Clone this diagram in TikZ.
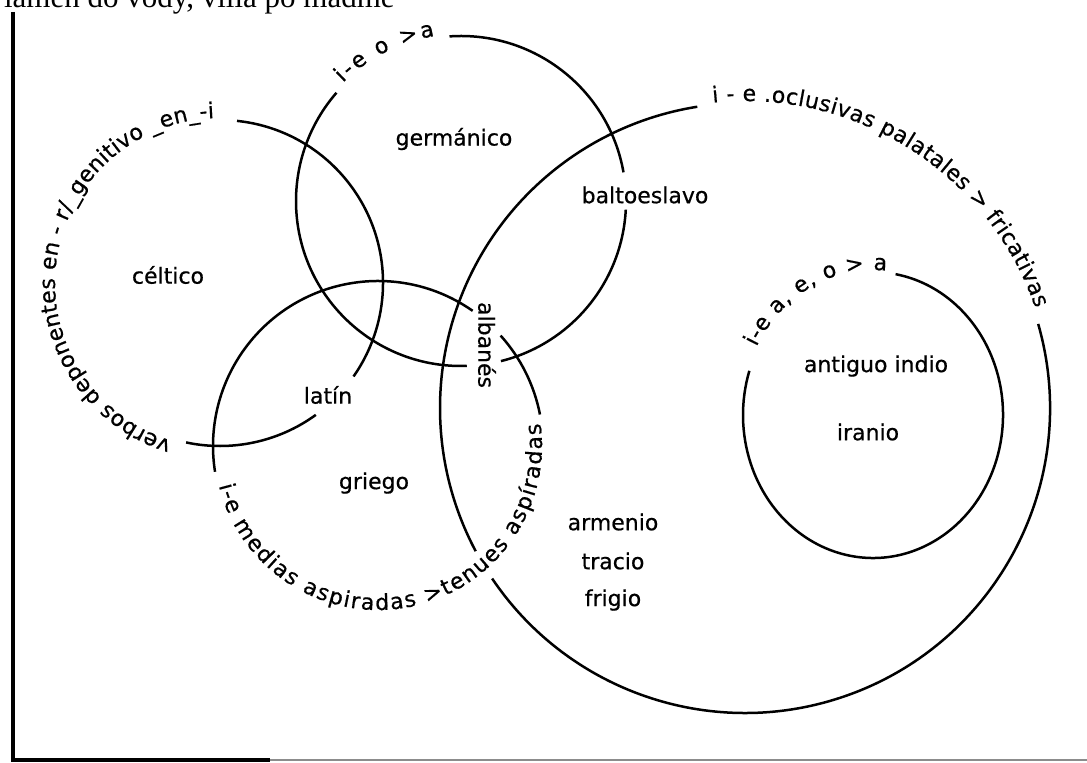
\documentclass[tikz,border=0pt]{standalone}
\usepackage{fontspec}
\setmainfont{DejaVu Sans}[FakeBold=0.6]
\newfontfamily\scanserif{Liberation Serif}
\usetikzlibrary{decorations.text}

\newcommand\curvefont{\fontsize{11}{13}\selectfont}

\tikzset{
	ring/.style={line width=1.25pt},
	lang/.style={inner sep=1pt, font=\curvefont},
	rimtext/.style={decorate, decoration={text along path, text={|\curvefont|#1}, text align=fit to path}}
}

\begin{document}
\begin{tikzpicture}[x=0.5pt, y=0.5pt]
	\useasboundingbox (0,0) rectangle (1087,762);

	% centres of the rings
	\coordinate (ca) at (220,479);
	\coordinate (cb) at (461,561);
	\coordinate (cc) at (745,354);
	\coordinate (cd) at (378,316);
	\coordinate (ce) at (873,347);

	% cut-off line of the page above and the frame
	\node[anchor=base east, inner sep=0pt, font=\scanserif\fontsize{15.5}{18}\selectfont] (pageline) at (395,754) {lamen do vody, vlila po mádmě};
	\draw[line width=2pt] (13,750) -- (13,2) -- (270,2);
	\draw[line width=1pt, black!45] (270,2) -- (1087,2);

	% celtic ring
	\draw[ring] (ca) ++(84:163) arc[start angle=84, end angle=-35, radius=163];
	\draw[ring] (ca) ++(-54:163) arc[start angle=-54, end angle=-102, radius=163];
	\path[rimtext={verbos deponentes en - r/{\_}genitivo {\_}en{\_}-i}] (ca) ++(253:165) arc[start angle=253, end angle=92, radius=165];

	% germanic ring
	\draw[ring] (cb) ++(94:165) arc[start angle=94, end angle=10, radius=165];
	\draw[ring] (cb) ++(-3:165) arc[start angle=-3, end angle=-76, radius=165];
	\draw[ring] (cb) ++(-88:165) arc[start angle=-88, end angle=-221, radius=165];
	\path[rimtext={i-e o >a}] (cb) ++(135:167) arc[start angle=135, end angle=99, radius=167];

	% satem ring
	\draw[ring] (cc) ++(16:305) arc[start angle=16, end angle=-146, radius=305];
	\draw[ring] (cc) ++(-152:305) arc[start angle=-152, end angle=-261, radius=305];
	\path[rimtext={i - e .oclusivas palatales > fricativas}] (cc) ++(96:307) arc[start angle=96, end angle=19, radius=307];

	% greek ring
	\draw[ring] (cd) ++(55:165) arc[start angle=55, end angle=189, radius=165];
	\draw[ring] (cd) ++(11:165) arc[start angle=11, end angle=42, radius=165];
	\path[rimtext={i-e medias aspiradas >tenues aspíradas}] (cd) ++(194:164) arc[start angle=194, end angle=368, radius=164];

	% indo-iranian ring
	\draw[ring] (ce) ++(80:130 and 143) arc[start angle=80, end angle=-198, x radius=130, y radius=143];
	\path[rimtext={i-e a, e, o > a}] (ce) ++(152:132 and 145) arc[start angle=152, end angle=84, x radius=132, y radius=145];

	% languages
	\node[lang] (celt) at (168,487) {céltico};
	\node[lang] (germ) at (454,623) {germánico};
	\node[lang] (balt) at (645,567) {baltoeslavo};
	\node[lang] (lat) at (328,367) {latín};
	\node[lang, rotate=-90] (alb) at (487,417) {albanés};
	\node[lang] (grk) at (374,279) {griego};
	\foreach \w [count=\i] in {armenio,tracio,frigio}{
		\node[lang] (thr\i) at (613, 279 - \i * 39) {\w};
	}
	\node[lang] (ind) at (876,396) {antiguo indio};
	\node[lang] (iran) at (868,330) {iranio};
\end{tikzpicture}
\end{document}
